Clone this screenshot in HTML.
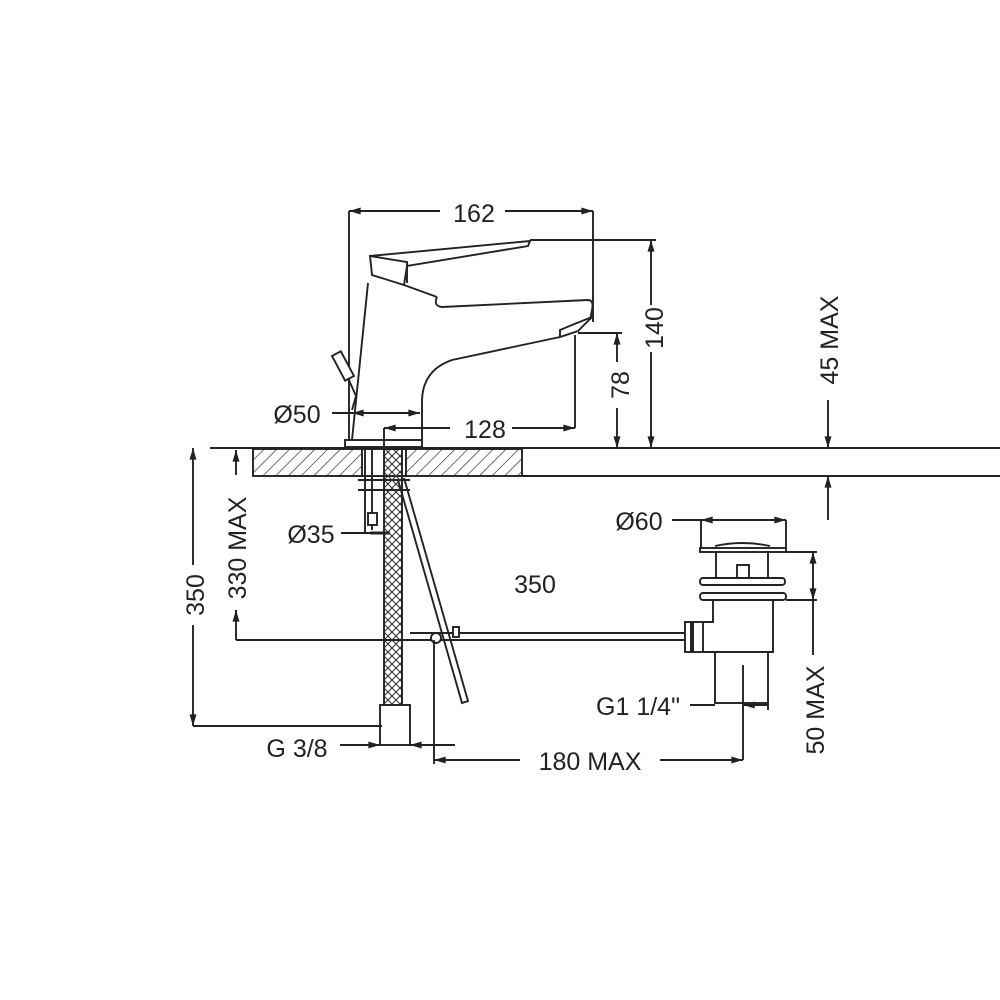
<!DOCTYPE html>
<html><head><style>html,body{margin:0;padding:0;background:#fff}svg{display:block}</style></head>
<body>
<svg width="1000" height="1000" viewBox="0 0 1000 1000" xmlns="http://www.w3.org/2000/svg" font-family="Liberation Sans, Arial, sans-serif">
<defs>
<marker id="a" viewBox="0 0 10 6" refX="10" refY="3" markerWidth="12" markerHeight="7" orient="auto-start-reverse" markerUnits="userSpaceOnUse"><path d="M0,0L10,3L0,6z" fill="#222"/></marker>
<pattern id="h" patternUnits="userSpaceOnUse" width="9" height="9" patternTransform="rotate(45)"><line x1="0" y1="0" x2="0" y2="9" stroke="#333" stroke-width="1.4"/></pattern>
<pattern id="x" patternUnits="userSpaceOnUse" width="8" height="8"><path d="M0,0L8,8M8,0L0,8" stroke="#333" stroke-width="1.1"/></pattern>
</defs>
<g stroke="#222" stroke-width="1.9" fill="none">
<line x1="210" y1="448" x2="1000" y2="448"/>
<line x1="522" y1="476" x2="1000" y2="476"/>
<rect x="253" y="449" width="269" height="27" fill="url(#h)"/>
<rect x="362" y="449" width="44" height="27" fill="#fff"/>
<line x1="349" y1="211" x2="440" y2="211" marker-start="url(#a)"/>
<line x1="505" y1="211" x2="593" y2="211" marker-end="url(#a)"/>
<line x1="349" y1="211" x2="349" y2="445"/>
<line x1="593" y1="211" x2="593" y2="322"/>
<path d="M370,256 L530,241 L528,246 L407,266 L404,285 L372,275 Z" fill="#fff"/>
<path d="M407,266 L407,283 M370,256 L407,262 L407,266"/>
<path d="M404,285 L437,297"/>
<path d="M368,283 L352,440"/>
<path d="M437,297 Q433,306 442,307 L588,300 Q594,300 592,310 L590,320"/>
<path d="M592,317 L572,325 L560,330 L560,337 L578,331 Z" fill="#fff"/>
<path d="M560,337 L452,360 Q423,370 422,400 L422,440"/>
<rect x="345" y="440" width="77" height="7" fill="#fff"/>
<rect x="338" y="352" width="10" height="28" transform="rotate(-28 343 366)" fill="#fff"/>
<path d="M348,378 L356,396 L352,410"/>
<line x1="332" y1="413" x2="352" y2="413"/>
<line x1="352" y1="413" x2="420" y2="413" marker-start="url(#a)" marker-end="url(#a)"/>
<line x1="384" y1="428" x2="384" y2="448"/>
<line x1="384" y1="428" x2="450" y2="428" marker-start="url(#a)"/>
<line x1="512" y1="428" x2="575" y2="428" marker-end="url(#a)"/>
<line x1="575" y1="335" x2="575" y2="428"/>
<line x1="578" y1="333" x2="622" y2="333"/>
<line x1="617" y1="333" x2="617" y2="362" marker-start="url(#a)"/>
<line x1="617" y1="408" x2="617" y2="448" marker-end="url(#a)"/>
<line x1="530" y1="240" x2="656" y2="240"/>
<line x1="651" y1="240" x2="651" y2="305" marker-start="url(#a)"/>
<line x1="651" y1="352" x2="651" y2="448" marker-end="url(#a)"/>
<line x1="828" y1="400" x2="828" y2="448" marker-end="url(#a)"/>
<line x1="828" y1="476" x2="828" y2="520" marker-start="url(#a)"/>
<line x1="358" y1="480" x2="410" y2="480"/>
<line x1="358" y1="490" x2="410" y2="490"/>
<line x1="365" y1="449" x2="365" y2="532"/>
<line x1="372" y1="449" x2="372" y2="530"/>
<rect x="368" y="513" width="9" height="12" fill="#fff"/>
<line x1="370" y1="533" x2="390" y2="533" stroke-width="3"/>
<rect x="384" y="449" width="18" height="256" fill="url(#x)"/>
<path d="M398,480 L462,703 L468,701 L404,478"/>
<rect x="380" y="705" width="30" height="40" fill="#fff"/>
<line x1="341" y1="533" x2="370" y2="533"/>
<line x1="236" y1="640" x2="432" y2="640"/>
<path d="M410,633 L690,633 M410,640 L690,640"/>
<circle cx="436" cy="638" r="5" fill="#fff"/>
<rect x="453" y="627" width="6" height="10" fill="#fff"/>
<rect x="685" y="622" width="18" height="30" fill="#fff"/>
<line x1="692" y1="622" x2="692" y2="652" stroke-width="4"/>
<path d="M700,550 L786,550 M715,546 Q742,540 770,546"/>
<rect x="700" y="548" width="86" height="4" fill="#fff"/>
<path d="M716,552 L716,578 M768,552 L768,578"/>
<rect x="737" y="565" width="12" height="14" fill="#fff"/>
<rect x="700" y="578" width="85" height="7" rx="3" fill="#fff"/>
<rect x="700" y="593" width="86" height="7" rx="3" fill="#fff"/>
<path d="M713,600 L713,622 L703,622 M703,652 L713,652 L773,652 L773,600"/>
<rect x="715" y="652" width="53" height="51" fill="#fff"/>
<line x1="743" y1="665" x2="743" y2="760"/>
<line x1="672" y1="520" x2="701" y2="520"/>
<line x1="701" y1="520" x2="786" y2="520" marker-start="url(#a)" marker-end="url(#a)"/>
<line x1="701" y1="520" x2="701" y2="548"/>
<line x1="786" y1="520" x2="786" y2="548"/>
<line x1="786" y1="552" x2="817" y2="552"/>
<line x1="786" y1="600" x2="817" y2="600"/>
<line x1="813" y1="552" x2="813" y2="600" marker-start="url(#a)" marker-end="url(#a)"/>
<line x1="813" y1="600" x2="813" y2="655"/>
<line x1="690" y1="705" x2="715" y2="705"/>
<line x1="743" y1="705" x2="768" y2="705" marker-start="url(#a)"/>
<line x1="768" y1="703" x2="768" y2="710"/>
<line x1="434" y1="640" x2="434" y2="764"/>
<line x1="434" y1="760" x2="520" y2="760" marker-start="url(#a)"/>
<line x1="660" y1="760" x2="743" y2="760" marker-end="url(#a)"/>
<line x1="340" y1="745" x2="380" y2="745" marker-end="url(#a)"/>
<line x1="410" y1="745" x2="455" y2="745" marker-start="url(#a)"/>
<line x1="193" y1="448" x2="193" y2="565" marker-start="url(#a)"/>
<line x1="193" y1="625" x2="193" y2="726" marker-end="url(#a)"/>
<line x1="193" y1="726" x2="382" y2="726"/>
<line x1="236" y1="450" x2="236" y2="475" marker-start="url(#a)"/>
<line x1="236" y1="610" x2="236" y2="640"/>
<line x1="236" y1="610" x2="236" y2="612" marker-start="url(#a)"/>
</g>
<g fill="#222" font-size="25">
<text x="474" y="222" text-anchor="middle">162</text>
<text x="297" y="423" text-anchor="middle">Ø50</text>
<text x="485" y="438" text-anchor="middle">128</text>
<text x="311" y="543" text-anchor="middle">Ø35</text>
<text x="535" y="593" text-anchor="middle">350</text>
<text x="639" y="530" text-anchor="middle">Ø60</text>
<text x="638" y="715" text-anchor="middle">G1 1/4"</text>
<text x="297" y="757" text-anchor="middle">G 3/8</text>
<text x="590" y="770" text-anchor="middle">180 MAX</text>
<text transform="translate(629,385) rotate(-90)" text-anchor="middle">78</text>
<text transform="translate(663,328) rotate(-90)" text-anchor="middle">140</text>
<text transform="translate(838,340) rotate(-90)" text-anchor="middle">45 MAX</text>
<text transform="translate(204,595) rotate(-90)" text-anchor="middle">350</text>
<text transform="translate(246,548) rotate(-90)" text-anchor="middle">330 MAX</text>
<text transform="translate(824,710) rotate(-90)" text-anchor="middle">50 MAX</text>
</g>
</svg>
</body></html>
